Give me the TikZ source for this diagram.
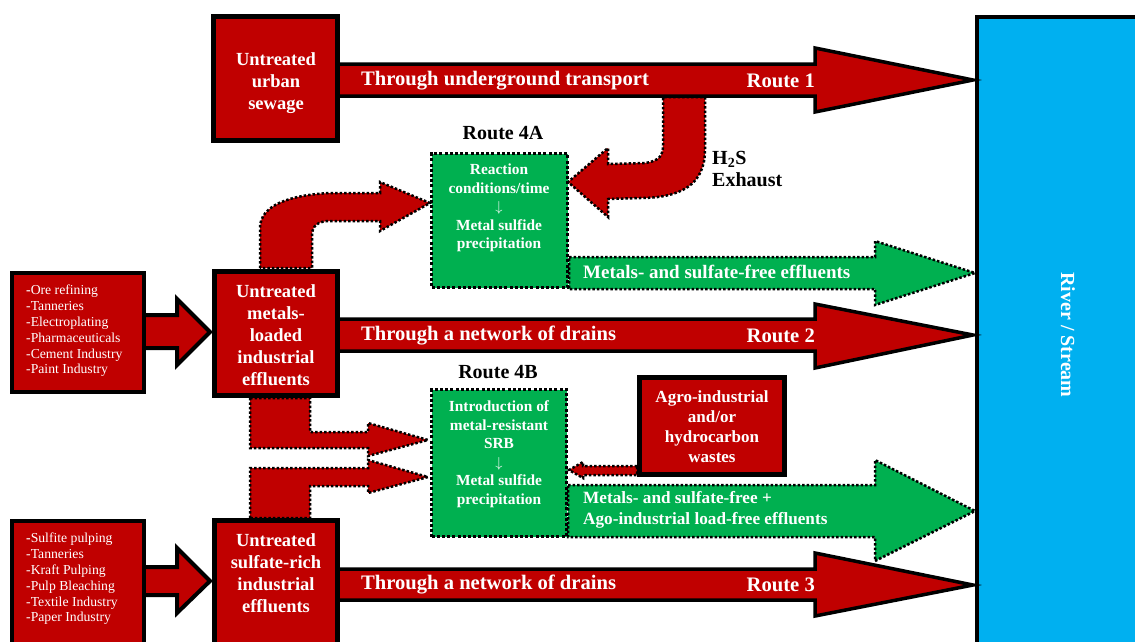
\documentclass[tikz,border=0pt]{standalone}
\usepackage{fontspec}
\setmainfont{Liberation Serif}
\definecolor{dred}{HTML}{C00000}
\definecolor{dgreen}{HTML}{00B050}
\definecolor{sky}{HTML}{00B0F0}
\begin{document}
\begin{tikzpicture}[x=1pt,y=-1pt,
  redbox/.style={draw=black,line width=5pt,fill=dred,inner sep=0pt,anchor=north west},
  listbox/.style={draw=black,line width=4pt,fill=dred,inner sep=0pt,anchor=north west},
  greenbox/.style={draw=black,line width=3pt,dash pattern=on 3pt off 2.2pt,fill=dgreen,inner sep=0pt,anchor=north west},
  routearrow/.style={draw=black,line width=3.5pt,fill=dred,line join=miter},
  inarrow/.style={draw=black,line width=4pt,fill=dred,line join=miter},
  dotarrow/.style={draw=black,line width=2.5pt,dash pattern=on 2.5pt off 2pt,fill=dred},
  greenarrow/.style={draw=black,line width=2.5pt,dash pattern=on 2.5pt off 2pt,fill=dgreen},
  boxtxt/.style={text=white,align=center,inner sep=0pt,font=\fontsize{18.5}{22}\selectfont\bfseries},
  routetxt/.style={text=white,inner sep=0pt,font=\fontsize{20.6}{22}\selectfont\bfseries},
  gtxt/.style={text=white,align=center,inner sep=0pt,font=\fontsize{15.4}{18.5}\selectfont\bfseries},
  listtxt/.style={text=white,align=left,inner sep=0pt,anchor=west,font=\fontsize{13.7}{15.8}\selectfont},
  labtxt/.style={text=black,inner sep=0pt,font=\fontsize{20}{22}\selectfont\bfseries}]
\useasboundingbox (0,0) rectangle (1135,641);

% river
\node[draw=black,line width=4pt,fill=sky,inner sep=0pt,anchor=north west,minimum width=180pt,minimum height=660pt] (river) at (975,15) {};
\node[text=white,rotate=-90,inner sep=0pt,font=\fontsize{20}{22}\selectfont\bfseries] (rivertxt) at (1068,335) {River / Stream};

% H2S exhaust arrow
\draw[dotarrow] (705,97) -- (705,150) .. controls (705,185) and (680,198) .. (640,198) -- (608,199) -- (608,217) -- (568,182) -- (608,148) -- (608,164) -- (645,163) .. controls (660,161) and (663,155) .. (663,145) -- (663,97) -- cycle;

% curved arrow to 4A
\draw[dotarrow] (260,268) -- (260,228) .. controls (260,205) and (290,195) .. (330,193) -- (380,193) -- (380,182) -- (430,203) -- (380,231) -- (380,221) -- (330,221) .. controls (318,221) and (312,226) .. (312,235) -- (312,268) -- cycle;

% dotted arrows to 4B
\draw[dotarrow] (250,398) -- (310,398) -- (310,432) -- (368,432) -- (368,423) -- (428,440) -- (368,456) -- (368,448) -- (250,448) -- cycle;
\draw[dotarrow] (250,518) -- (250,468) -- (368,468) -- (368,460) -- (428,477) -- (368,493) -- (368,486) -- (310,486) -- (310,518) -- cycle;

% agro arrow
\draw[dotarrow] (637,466) -- (583,466) -- (583,462) -- (569,470) -- (583,478) -- (583,475) -- (637,475) -- cycle;

% green arrows
\draw[greenarrow] (569,257) -- (875,257) -- (875,241) -- (975,273) -- (875,305) -- (875,289) -- (569,289) -- cycle;
\draw[greenarrow] (568,485) -- (875,485) -- (875,460) -- (975,511) -- (875,561) -- (875,537) -- (568,537) -- cycle;

% route arrows
\draw[routearrow] (330,64) -- (815,64) -- (815,48) -- (973,80) -- (815,112) -- (815,96) -- (330,96) -- cycle;
\draw[routearrow] (330,319) -- (815,319) -- (815,304) -- (973,335) -- (815,368) -- (815,351) -- (330,351) -- cycle;
\draw[routearrow] (330,569) -- (815,569) -- (815,553) -- (973,585) -- (815,616) -- (815,600) -- (330,600) -- cycle;

% input arrows
\draw[inarrow] (140,315) -- (177,315) -- (177,299) -- (210,332) -- (177,365) -- (177,348) -- (140,348) -- cycle;
\draw[inarrow] (140,567) -- (177,567) -- (177,548) -- (210,581) -- (177,613) -- (177,595) -- (140,595) -- cycle;

% boxes
\node[redbox,minimum width=124pt,minimum height=124pt] (urban) at (211,14) {};
\node[redbox,minimum width=123pt,minimum height=124pt] (metals) at (212,269) {};
\node[redbox,minimum width=123pt,minimum height=140pt] (sulfate) at (212,518) {};
\node[redbox,minimum width=145pt,minimum height=97pt] (agro) at (637,375) {};
\node[listbox,minimum width=132pt,minimum height=119pt] (ore) at (10,271) {};
\node[listbox,minimum width=132pt,minimum height=140pt] (sulfite) at (10,519) {};
\node[greenbox,minimum width=136pt,minimum height=134pt] (g4a) at (430,152) {};
\node[greenbox,minimum width=135pt,minimum height=147pt] (g4b) at (430,388) {};

% texts
\node[boxtxt] (urbantxt) at (276,83) {Untreated\\urban\\sewage};
\node[boxtxt] (metalstxt) at (276,335.5) {Untreated\\metals-\\loaded\\industrial\\effluents};
\node[boxtxt] (sulfatetxt) at (276,573) {Untreated\\sulfate-rich\\industrial\\effluents};
\node[text=white,align=center,inner sep=0pt,font=\fontsize{17}{20}\selectfont\bfseries] (agrotxt) at (712,427) {Agro-industrial\\and/or\\hydrocarbon\\wastes};
\node[listtxt] (oretxt) at (26,331) {\textbf{-}Ore refining\\-Tanneries\\-Electroplating\\-Pharmaceuticals\\-Cement Industry\\-Paint Industry};
\node[listtxt] (sulfitetxt) at (26,579) {\textbf{-}Sulfite pulping\\-Tanneries\\-Kraft Pulping\\-Pulp Bleaching\\-Textile Industry\\-Paper Industry};
\node[gtxt] (g4atxt) at (499,208) {Reaction\\conditions/time\\$\downarrow$\\Metal sulfide\\precipitation};
\node[gtxt] (g4btxt) at (499,454) {Introduction of\\metal-resistant\\SRB\\$\downarrow$\\Metal sulfide\\precipitation};

\node[routetxt,anchor=west] (r1a) at (361,81) {Through underground transport};
\node[routetxt,anchor=east] (r1b) at (815,81) {Route 1};
\node[routetxt,anchor=west] (r2a) at (361,336) {Through a network of drains};
\node[routetxt,anchor=east] (r2b) at (815,336) {Route 2};
\node[routetxt,anchor=west] (r3a) at (361,585) {Through a network of drains};
\node[routetxt,anchor=east] (r3b) at (815,585) {Route 3};

\node[labtxt] (l4a) at (503,133) {Route 4A};
\node[labtxt] (l4b) at (498,372) {Route 4B};
\node[labtxt,align=left,anchor=west] (h2s) at (712,169) {H\textsubscript{2}S\\Exhaust};

\node[text=white,inner sep=0pt,anchor=west,font=\fontsize{19}{21}\selectfont\bfseries] (gat1) at (583,272) {Metals- and sulfate-free effluents};
\node[text=white,inner sep=0pt,anchor=west,align=left,font=\fontsize{17.2}{21}\selectfont\bfseries] (gat2) at (583,510) {Metals- and sulfate-free +\\Ago-industrial load-free effluents};
\end{tikzpicture}
\end{document}
